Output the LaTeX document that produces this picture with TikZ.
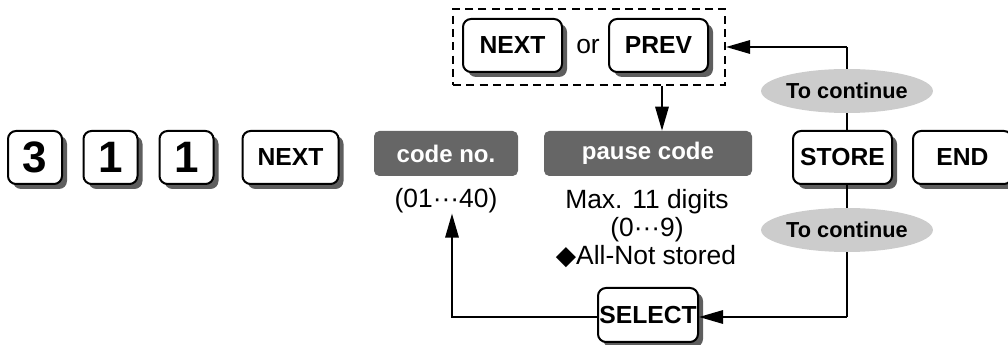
\documentclass[tikz,border=0pt]{standalone}
\usepackage{fontspec}
\setmainfont{Liberation Sans}
\newfontfamily\symfont{DejaVu Sans}
\usetikzlibrary{arrows.meta,shadows,shapes.geometric}
\definecolor{shadowgray}{HTML}{5E5E5E}
\definecolor{labelgray}{HTML}{666666}
\definecolor{ovalgray}{HTML}{CCCCCC}
\tikzset{
  key/.style={draw=black, line width=1.5pt, fill=white, rounded corners=6pt, inner sep=0pt,
    drop shadow={shadow xshift=3.75pt, shadow yshift=-3.75pt, fill=shadowgray, opacity=1},
    font=\fontsize{18.5}{21}\selectfont\bfseries, minimum height=39.75pt},
  bigkey/.style={key, font=\fontsize{33}{36}\selectfont\bfseries, minimum width=40.5pt},
  label/.style={fill=labelgray, rounded corners=4pt, inner sep=0pt, text=white,
    font=\fontsize{18}{21}\selectfont\bfseries, minimum height=33.75pt},
  oval/.style={ellipse, fill=ovalgray, inner sep=0pt, minimum width=106.5pt, minimum height=33pt,
    font=\fontsize{16.3}{19}\selectfont\bfseries},
  plain/.style={inner sep=0pt, font=\fontsize{19.8}{22}\selectfont},
  conn/.style={line width=1.5pt},
  arr/.style={conn, -{Triangle[length=18pt, width=10pt]}}
}
\begin{document}
\begin{tikzpicture}[x=0.75pt, y=-0.75pt]
\useasboundingbox (0,0) rectangle (1008,345);
% dashed group
\node[draw, line width=1.5pt, dash pattern=on 6pt off 4pt, minimum width=204pt, minimum height=57pt, inner sep=0pt] (grp) at (589,47) {};
\node[key, minimum width=74.25pt] (tnext) at (512.5,45.5) {NEXT};
\node[plain] (or) at (588,47) {or};
\node[key, minimum width=74.25pt] (prev) at (658.5,45.5) {PREV};
% main row
\node[bigkey] (k3) at (35,157.5) {3};
\node[bigkey] (k1a) at (110.5,157.5) {1};
\node[bigkey] (k1b) at (186.5,157.5) {1};
\node[key, minimum width=72pt] (next) at (290.5,157.5) {NEXT};
\node[label, minimum width=108pt] (code) at (446,153.5) {code no.};
\node[label, minimum width=156pt] (pause) at (648,153.5) {pause code};
\node[key, minimum width=74.25pt] (store) at (842.5,157.5) {STORE};
\node[key, minimum width=74.25pt] (end) at (962.5,157.5) {END};
% texts
\node[plain] (range) at (446,201) {(01···40)};
\node[plain] (max) at (647,202) {Max. 11 digits};
\node[plain] (digits) at (647,230) {(0···9)};
\node[plain] (notst) at (646,257) {{\symfont ◆}All-Not stored};
% ovals
\coordinate (vtop) at (847,47);
\coordinate (vbot) at (847,317);
\node[oval] (cont1) at (847,91) {To continue};
\node[oval] (cont2) at (847,230) {To continue};
% select
\node[key, minimum width=75pt, minimum height=40.5pt] (select) at (648,315) {SELECT};
\coordinate (bend) at (452,317);
% connectors
\draw[arr] (vtop) -- (grp.east |- vtop);
\draw[conn] (vtop) -- (cont1.north);
\draw[conn] (cont1.south) -- (cont1.south |- store.north);
\draw[conn] (cont1.south |- store.south) -- (cont2.north);
\draw[conn] (cont2.south) -- (vbot);
\draw[arr] (vbot) -- (select.east |- vbot);
\draw[arr] (select.west |- bend) -- (bend) -- (bend |- range.south);
\draw[arr] (grp.south -| 662,0) -- (pause.north -| 662,0);
\end{tikzpicture}
\end{document}
